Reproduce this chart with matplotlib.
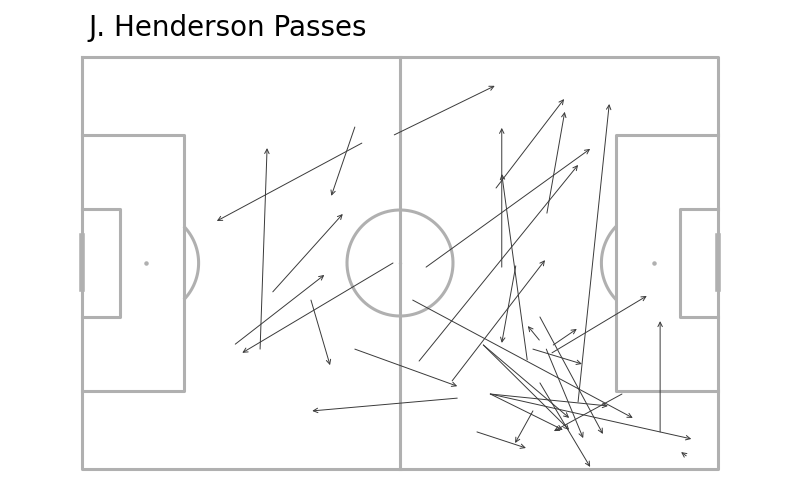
import numpy as np
import matplotlib
matplotlib.use('Agg')
import matplotlib.pyplot as plt

# Passes in Wyscout-style coordinates (0-100 both ways, y from top)
start_x = [44.0, 42.9, 28.0, 30.0, 49.1, 24.1, 48.9, 36.0, 42.9, 59.0,
           52.0, 53.0, 58.2, 54.1, 65.1, 73.1, 66.0, 78.0, 70.0, 68.2,
           72.0, 71.9, 74.1, 73.9, 90.9, 70.9, 73.0, 63.1, 63.1, 64.2,
           64.2, 64.2, 84.9, 72.0, 70.9, 62.1, 95.0]
start_y = [20.9, 17.0, 70.9, 57.0, 18.9, 69.7, 50.0, 59.0, 70.9, 82.8,
           59.0, 73.8, 78.6, 51.0, 31.8, 37.9, 51.0, 83.7, 73.5, 50.7,
           63.1, 68.7, 69.9, 71.8, 91.0, 70.9, 70.9, 69.9, 69.9, 81.8,
           81.8, 81.8, 81.8, 79.1, 85.9, 91.0, 96.8]
end_x = [21.2, 39.2, 29.1, 41.0, 64.9, 38.1, 25.2, 39.0, 59.0, 36.2,
         86.6, 78.0, 72.8, 79.9, 75.8, 75.9, 66.0, 82.9, 66.0, 66.0,
         81.9, 70.1, 77.8, 88.8, 90.9, 78.6, 78.8, 76.6, 76.6, 75.6,
         82.7, 95.8, 74.2, 79.9, 68.1, 69.8, 94.2]
end_y = [39.8, 33.7, 22.1, 38.1, 7.0, 52.9, 71.8, 74.8, 79.9, 85.9,
         87.6, 26.2, 49.3, 22.3, 10.2, 13.3, 17.2, 11.4, 28.4, 69.4,
         91.5, 65.3, 66.0, 58.0, 64.1, 74.5, 92.5, 87.6, 90.5, 90.5,
         84.7, 92.7, 90.8, 99.5, 93.7, 94.9, 95.9]

line_col = '#b0b0b0'
arrow_col = '#3a3a3a'

fig = plt.figure(figsize=(8, 5), dpi=100)
ax = fig.add_axes([82/800, 31/500, 636/800, 412/500])
ax.set_xlim(0, 100)
ax.set_ylim(100, 0)
ax.axis('off')

# pixel scale, used to keep the circles round on screen
sx = 636/100
sy = 412/100
r_px = 53


def seg(xs, ys, lw=2.2, cap='projecting'):
    ax.plot(xs, ys, color=line_col, lw=lw, solid_capstyle=cap,
            zorder=1, clip_on=False)


# outline and halfway line
seg([0, 100, 100, 0, 0], [0, 0, 100, 100, 0])
seg([50, 50], [0, 100])

# boxes
for x0, x1 in [(0, 16), (100, 84)]:
    seg([x0, x1, x1, x0], [19, 19, 81, 81])
for x0, x1 in [(0, 6), (100, 94)]:
    seg([x0, x1, x1, x0], [37, 37, 63, 63])

# goals
seg([0, 0], [43.5, 56.3], lw=4)
seg([100, 100], [43.5, 56.3], lw=4)

# centre circle
t = np.linspace(0, 2*np.pi, 200)
seg(50 + r_px/sx*np.cos(t), 50 + r_px/sy*np.sin(t), cap='butt')

# penalty arcs
a = np.arccos((16 - 10)*sx/r_px)
t = np.linspace(-a, a, 60)
seg(10 + r_px/sx*np.cos(t), 50 + r_px/sy*np.sin(t), cap='butt')
seg(90 - r_px/sx*np.cos(t), 50 + r_px/sy*np.sin(t), cap='butt')

# spots
ax.scatter([10, 90], [50, 50], s=5, color=line_col, zorder=1)
ax.scatter([50], [50], s=2, color=line_col, zorder=1)

# passes
for x0, y0, x1, y1 in zip(start_x, start_y, end_x, end_y):
    ax.annotate('', xy=(x1, y1), xytext=(x0, y0),
                arrowprops=dict(arrowstyle='->', color=arrow_col, lw=0.7,
                                mutation_scale=8, shrinkA=0, shrinkB=0),
                zorder=2)

fig.text(88/800, 1 - 36/500, 'J. Henderson Passes', fontsize=20,
         ha='left', va='baseline')

fig.savefig('out.png', dpi=100)
